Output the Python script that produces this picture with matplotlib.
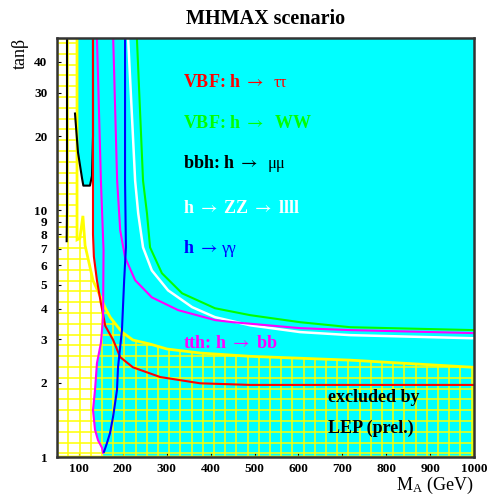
import numpy as np
import matplotlib
matplotlib.use("Agg")
import matplotlib.pyplot as plt
from matplotlib.patches import Polygon
from matplotlib.collections import LineCollection
from matplotlib.ticker import NullLocator

plt.rcParams['font.family'] = ['Liberation Serif', 'DejaVu Serif']
plt.rcParams['mathtext.fontset'] = 'stix'

# discovery contours (M_A in GeV, tan beta)
ma_vbf_tau = [132, 132, 134, 141, 150, 160, 178, 194, 223, 285, 376, 490, 1000]
tb_vbf_tau = [50, 8.0, 6.5, 5.2, 4.2, 3.4, 2.98, 2.54, 2.31, 2.11, 1.99, 1.96, 1.96]

ma_vbf_ww = [232, 246, 255, 262, 289, 335, 410, 490, 604, 718, 1000]
tb_vbf_ww = [50, 13.2, 9.72, 7.08, 5.56, 4.61, 4.01, 3.76, 3.52, 3.36, 3.27]

ma_zz = [212, 228, 235, 246, 266, 303, 358, 410, 490, 604, 718, 1000]
tb_zz = [50, 13.2, 9.72, 7.08, 5.71, 4.74, 4.05, 3.69, 3.42, 3.21, 3.12, 3.03]

ma_tth_hi = [178, 187, 194, 205, 228, 266, 326, 410, 451, 604, 718, 1000]
tb_tth_hi = [50, 13.2, 8.3, 6.45, 5.21, 4.44, 3.94, 3.59, 3.52, 3.33, 3.27, 3.18]

ma_tth_lo = [141, 150, 156, 155, 150, 141, 136.6, 132, 136.6, 143.4, 152.5, 155]
tb_tth_lo = [50, 13.2, 6.9, 3.7, 2.9, 2.4, 1.87, 1.55, 1.29, 1.17, 1.09, 1.04]

ma_gg = [205, 205, 207, 203, 198, 189, 186.7, 177.6, 170.8, 163.9, 157.1]
tb_gg = [50, 13.2, 7.08, 5.21, 3.27, 2.31, 1.87, 1.45, 1.25, 1.14, 1.05]

ma_mumu_a = [72.8, 72.8, 72]
tb_mumu_a = [50, 10, 7.5]
ma_mumu_b = [91, 97.8, 107, 110, 125, 129.7, 132, 132]
tb_mumu_b = [24.7, 17.2, 13.5, 12.6, 12.6, 13.8, 20, 50]

# region not covered by any channel
ma_gap = [50, 50, 95.6, 95.6, 97.8, 107, 110, 125, 129.7, 132, 132, 134, 141,
          150, 155, 150, 141, 136.6, 132, 136.6, 143.4, 152.5, 155, 155]
tb_gap = [1, 50, 50, 19, 17.2, 13.5, 12.6, 12.6, 13.8, 15, 8, 6.5, 5.2,
          4.2, 3.7, 2.9, 2.4, 1.87, 1.55, 1.29, 1.17, 1.09, 1.04, 1]

# LEP excluded region
ma_lep = [50, 50, 95.6, 95.6, 102, 109, 114, 132, 148, 159, 171, 189, 198,
          223, 262, 301, 376, 490, 718, 1000, 1000]
tb_lep = [1, 50, 50, 7.6, 7.7, 9.5, 7.2, 5.2, 4.5, 4.05, 3.69, 3.36, 3.21,
          2.98, 2.87, 2.74, 2.64, 2.56, 2.47, 2.31, 1]

xticks = [100, 200, 300, 400, 500, 600, 700, 800, 900, 1000]
yticks = [1, 2, 3, 4, 5, 6, 7, 8, 9, 10, 20, 30, 40]

CYAN = '#00ffff'
YELLOW = '#ffff00'
MAGENTA = '#ff00ff'
ARROW = r'$\rightarrow$'

fig = plt.figure(figsize=(4.87, 4.99), dpi=100)
ax = fig.add_axes([57 / 487, 42 / 499, 417 / 487, 419 / 499])
ax.set_yscale('log')
ax.set_xlim(50, 1000)
ax.set_ylim(1, 50)
ax.set_facecolor(CYAN)

ax.add_patch(Polygon(np.column_stack([ma_gap, tb_gap]), closed=True,
                     facecolor='white', edgecolor='none', zorder=1))

lep = Polygon(np.column_stack([ma_lep, tb_lep]), closed=True,
              facecolor='none', edgecolor=YELLOW, lw=2, zorder=2.6)
ax.add_patch(lep)

# yellow cross-hatching, ~11 px cells
xs = np.arange(11.3, 417, 11.2) / 417
ys = np.arange(3.7, 419, 10.8) / 419
segs = [[(x, 0), (x, 1)] for x in xs] + [[(0, y), (1, y)] for y in ys]
grid = LineCollection(segs, transform=ax.transAxes, colors=YELLOW, lw=1.1, zorder=2.5)
ax.add_collection(grid)
grid.set_clip_path(lep)

ax.plot(ma_vbf_tau, tb_vbf_tau, color='red', lw=1.5, zorder=3)
ax.plot(ma_vbf_ww, tb_vbf_ww, color='#00ff00', lw=1.5, zorder=3)
ax.plot(ma_zz, tb_zz, color='white', lw=1.8, zorder=3)
ax.plot(ma_tth_hi, tb_tth_hi, color=MAGENTA, lw=1.5, zorder=3)
ax.plot(ma_tth_lo, tb_tth_lo, color=MAGENTA, lw=1.5, zorder=3)
ax.plot(ma_gg, tb_gg, color='blue', lw=1.5, zorder=3)
ax.plot(ma_mumu_a, tb_mumu_a, color='black', lw=1.5, zorder=3)
ax.plot(ma_mumu_b, tb_mumu_b, color='black', lw=1.5, zorder=2.9)


def label(x, y, txt, color, greek=None, gap=6):
    t = ax.text(x, y, txt, transform=ax.transAxes, color=color, fontsize=13,
                fontweight='bold', va='baseline', zorder=5)
    if greek:
        ax.annotate(greek, xy=(1, 0), xycoords=t, xytext=(gap, 0),
                    textcoords='offset points', color=color, fontsize=12,
                    va='bottom', zorder=5)


label(0.302, 0.883, 'VBF: h ' + ARROW, 'red', '\u03c4\u03c4', 7)
label(0.302, 0.785, 'VBF: h ' + ARROW + '  WW', '#00ff00')
label(0.302, 0.690, 'bbh: h ' + ARROW, 'black', '\u03bc\u03bc', 7)
label(0.302, 0.582, 'h ' + ARROW + ' ZZ ' + ARROW + ' llll', 'white')
label(0.302, 0.487, 'h ' + ARROW, 'blue', '\u03b3\u03b3', 3)
label(0.302, 0.260, 'tth: h ' + ARROW + ' bb', MAGENTA)
label(0.650, 0.131, 'excluded by', 'black')
label(0.650, 0.057, 'LEP (prel.)', 'black')

ax.set_xticks(xticks)
ax.set_yticks(yticks)
ax.set_yticklabels([str(v) for v in yticks])
ax.yaxis.set_minor_locator(NullLocator())
ax.tick_params(direction='in', length=3, width=0.8, labelsize=9.5, pad=4)
ax.tick_params(axis='y', pad=7)
for lbl in ax.get_xticklabels() + ax.get_yticklabels():
    lbl.set_fontweight('bold')

for sp in ax.spines.values():
    sp.set_linewidth(1.8)
    sp.set_color('#333333')
    sp.set_zorder(6)

ax.set_title('MHMAX scenario', fontsize=14.5, fontweight='bold', pad=10)
ax.set_ylabel('tan\u03b2', loc='top', fontsize=13)
ax.set_xlabel(r'M$_{\mathregular{A}}$ (GeV)', loc='right', fontsize=13, labelpad=0)

fig.savefig('out.png', dpi=100)
